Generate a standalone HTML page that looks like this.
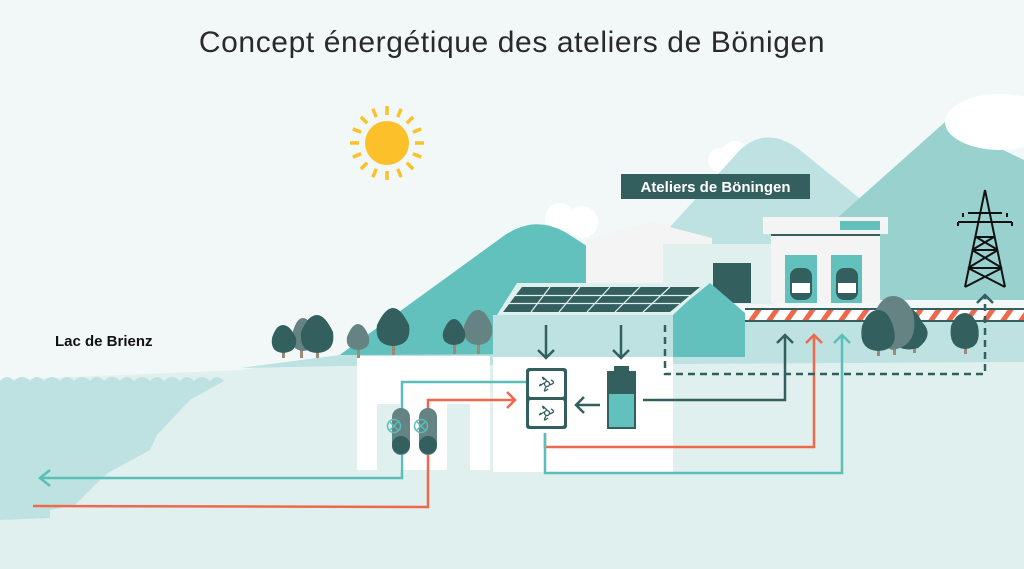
<!DOCTYPE html>
<html><head><meta charset="utf-8"><style>
html,body{margin:0;padding:0;background:#f2f8f8}
svg{display:block}
</style></head><body>
<svg width="1024" height="569" viewBox="0 0 1024 569" xmlns="http://www.w3.org/2000/svg">
<rect width="1024" height="569" fill="#f2f8f8"/>
<text x="512" y="52" text-anchor="middle" font-family="Liberation Sans, sans-serif" font-size="30" letter-spacing="0.6" fill="#2a2a2a">Concept énergétique des ateliers de Bönigen</text>
<!-- sun -->
<g transform="translate(387,143)" stroke="#fcc12a" stroke-width="3.5" stroke-linecap="butt">
<circle r="22" fill="#fcc12a" stroke="none"/>
<g id="r"><line x1="0" y1="-28" x2="0" y2="-37"/></g>
<use href="#r" transform="rotate(22.5)"/><use href="#r" transform="rotate(45)"/><use href="#r" transform="rotate(67.5)"/>
<use href="#r" transform="rotate(90)"/><use href="#r" transform="rotate(112.5)"/><use href="#r" transform="rotate(135)"/>
<use href="#r" transform="rotate(157.5)"/><use href="#r" transform="rotate(180)"/><use href="#r" transform="rotate(202.5)"/>
<use href="#r" transform="rotate(225)"/><use href="#r" transform="rotate(247.5)"/><use href="#r" transform="rotate(270)"/>
<use href="#r" transform="rotate(292.5)"/><use href="#r" transform="rotate(315)"/><use href="#r" transform="rotate(337.5)"/>
</g>
<!-- clouds -->
<circle cx="560" cy="218" r="15" fill="#fff"/><circle cx="582" cy="222" r="16" fill="#fff"/>
<circle cx="720" cy="160" r="12" fill="#fff"/><circle cx="735" cy="155" r="14" fill="#fff"/>
<!-- mountains -->
<path d="M640,260 L740,150 Q767,125 800,150 L880,215 L880,300 L640,300 Z" fill="#bde2e1"/>
<path d="M790,260 L945,122 L1024,160 L1024,300 L790,300 Z" fill="#98d1ce"/>
<ellipse cx="1000" cy="122" rx="55" ry="28" fill="#fff"/>
<path d="M330,362 L505,235 Q535,215 565,232 L590,248 L590,360 Z" fill="#63c1bd"/>
<!-- background buildings -->
<path d="M586,240 L650,222 L712,238 L712,300 L586,300 Z" fill="#f4f4f4"/>
<rect x="663" y="244" width="110" height="60" fill="#e0f0ef"/>
<rect x="713" y="263" width="38" height="40" fill="#33605f"/>
<!-- workshop -->
<rect x="771" y="235" width="109" height="68" fill="#f4f4f4"/>
<rect x="763" y="217" width="125" height="17" fill="#f4f4f4"/>
<rect x="771" y="234" width="109" height="2" fill="#33605f"/>
<rect x="840" y="221" width="40" height="9" fill="#63c1bd"/>
<g fill="#63c1bd"><rect x="785" y="255" width="32" height="48"/><rect x="831" y="255" width="31" height="48"/></g>
<g fill="#33605f"><rect x="790" y="268" width="22" height="32" rx="8"/><rect x="836" y="268" width="22" height="32" rx="8"/></g>
<g fill="#fff"><rect x="792" y="283" width="18" height="10"/><rect x="838" y="283" width="18" height="10"/></g>
<!-- ground -->
<path d="M0,380 L240,370 L340,356 L1024,354 L1024,569 L0,569 Z" fill="#e0f0ef"/>
<path d="M240,368 L340,355 L1024,352 L1024,362 L340,366 Z" fill="#bde2e1"/>
<path d="M745,320 L1024,320 L1024,356 L745,356 Z" fill="#bde2e1"/>
<!-- lake -->
<path d="M0,381 Q7,373 14,381 Q22,373 30,381 Q37,373 44,381 Q52,373 60,381 Q67,373 74,381 Q82,373 90,381 Q97,373 104,381 Q112,373 120,381 Q127,373 134,381 Q142,373 150,381 Q157,373 164,381 Q172,373 180,381 Q187,373 194,381 Q202,373 210,381 Q217,373 224,381 L240,372 L190,400 L157,435 L150,450 L108,473 L100,480 L75,505 L50,510 L50,518 L0,520 Z" fill="#bde2e1"/>
<text x="55" y="346" font-family="Liberation Sans, sans-serif" font-size="15" font-weight="bold" fill="#111">Lac de Brienz</text>
<!-- white building blocks -->
<path d="M357,356 L490,356 L490,470 L470,470 L470,404 L447,404 L447,470 L400,470 L400,404 L380,404 L380,392 L380,404 L357,404 Z" fill="#fff"/>
<rect x="357" y="356" width="20" height="114" fill="#fff"/>
<rect x="493" y="356" width="180" height="116" fill="#fff"/>
<!-- main building with solar -->
<rect x="493" y="315" width="180" height="42" fill="#bde2e1"/>
<path d="M673,357 L673,313 L710,283 L745,313 L745,357 Z" fill="#63c1bd"/>
<path d="M517,283 L707,283 L673,315 L497,315 Z" fill="#e0f0ef"/>
<path d="M522,287 L700,287 L670,312 L503,312 Z" fill="#33605f"/>
<g stroke="#e0f0ef" stroke-width="1.2">
<line x1="512" y1="295.5" x2="690" y2="295.5"/><line x1="507" y1="303.5" x2="680" y2="303.5"/>
<line x1="550" y1="287" x2="531" y2="312"/><line x1="580" y1="287" x2="559" y2="312"/><line x1="610" y1="287" x2="587" y2="312"/><line x1="640" y1="287" x2="615" y2="312"/><line x1="670" y1="287" x2="643" y2="312"/>
</g>
<!-- track -->
<rect x="745" y="308" width="279" height="14" fill="#fff"/>
<g clip-path="url(#tc)"><clipPath id="tc"><rect x="745" y="310" width="279" height="10"/></clipPath>
<g stroke="#f0684c" stroke-width="5">
<path d="M750,322 L760,308 M768,322 L778,308 M786,322 L796,308 M804,322 L814,308 M822,322 L832,308 M840,322 L850,308 M858,322 L868,308 M876,322 L886,308 M894,322 L904,308 M912,322 L922,308 M930,322 L940,308 M948,322 L958,308 M966,322 L976,308 M984,322 L994,308 M1002,322 L1012,308 M1020,322 L1030,308"/></g></g>
<rect x="745" y="308" width="279" height="2" fill="#33605f"/><rect x="745" y="320" width="279" height="2" fill="#33605f"/>
<!-- trees -->
<g>
<g fill="#a08878"><rect x="282" y="340" width="3" height="18"/><rect x="300" y="340" width="3" height="18"/><rect x="316" y="340" width="3" height="18"/><rect x="357" y="340" width="3" height="18"/><rect x="392" y="340" width="3" height="15"/><rect x="453" y="340" width="3" height="14"/><rect x="477" y="340" width="3" height="14"/>
<rect x="877" y="340" width="3" height="16"/><rect x="893" y="340" width="3" height="15"/><rect x="913" y="340" width="3" height="13"/><rect x="964" y="340" width="3" height="14"/></g>
<path d="M303,318 Q310,318 316,335 Q318,350 303,351 Q290,350 292,335 Q296,318 303,318Z" fill="#648382"/>
<path d="M283,325 Q290,325 296,338 Q298,352 283,353 Q270,352 272,338 Q276,325 283,325Z" fill="#33605f"/>
<path d="M317,315 Q325,315 333,332 Q336,352 317,353 Q299,352 301,332 Q308,315 317,315Z" fill="#33605f"/>
<path d="M358,324 Q364,324 369,337 Q371,349 358,350 Q345,349 347,337 Q352,324 358,324Z" fill="#648382"/>
<path d="M393,308 Q401,308 409,325 Q412,345 393,346 Q374,345 377,325 Q385,308 393,308Z" fill="#33605f"/>
<path d="M478,310 Q486,310 492,326 Q494,344 478,345 Q462,344 464,326 Q470,310 478,310Z" fill="#648382"/>
<path d="M454,319 Q460,319 465,332 Q467,344 454,345 Q441,344 443,332 Q448,319 454,319Z" fill="#33605f"/>
<path d="M905,307 Q915,307 922,322 Q935,335 918,348 Q905,352 895,345 Z" fill="#33605f"/>
<path d="M893,296 Q905,296 913,312 Q920,345 893,350 Q872,345 875,312 Q882,296 893,296Z" fill="#648382"/>
<path d="M878,310 Q888,310 893,326 Q900,350 878,351 Q858,350 862,326 Q868,310 878,310Z" fill="#33605f"/>
<path d="M965,313 Q973,313 978,326 Q982,348 965,349 Q948,348 951,326 Q956,313 965,313Z" fill="#33605f"/>
</g>
<!-- power tower -->
<g stroke="#111" stroke-width="2" fill="none">
<path d="M985,190 L965,287 M985,190 L1005,287 M968,213 L1002,213 M958,222 L1012,222 M958,222 L958,226 M1012,222 L1012,226 M963,213 L963,217 M1007,213 L1007,217 M976,237 L994,237 M972,250 L998,250 M968,268 L1002,268 M976,237 L998,250 M994,237 L972,250 M972,250 L1002,268 M998,250 L968,268 M968,268 L1005,287 M1002,268 L965,287"/>
</g>
<!-- label -->
<rect x="621" y="174" width="189" height="25" fill="#33605f"/>
<text x="715.5" y="192" text-anchor="middle" font-family="Liberation Sans, sans-serif" font-size="15" font-weight="bold" fill="#fff">Ateliers de Böningen</text>
<!-- pipes -->
<g fill="none" stroke-width="2.5">
<path d="M40,478 L402,478 L402,382 L528,382" stroke="#5bbfb9"/>
<path d="M50,470 L40,478 L50,486" stroke="#5bbfb9"/>
<path d="M33,506 L428,507 L428,400 L515,400" stroke="#f0684c"/>
<path d="M507,392 L515,400 L507,408" stroke="#f0684c"/>
<path d="M545,433 L545,447 L814,447 L814,335" stroke="#f0684c"/>
<path d="M806,343 L814,335 L822,343" stroke="#f0684c"/>
<path d="M545,433 L545,473 L842,473 L842,335" stroke="#5bbfb9"/>
<path d="M834,343 L842,335 L850,343" stroke="#5bbfb9"/>
<path d="M643,400 L785,400 L785,335" stroke="#33605f"/>
<path d="M777,343 L785,335 L793,343" stroke="#33605f"/>
<path d="M665,325 L665,374 L985,374 L985,295" stroke="#33605f" stroke-dasharray="7,5"/>
<path d="M977,303 L985,295 L993,303" stroke="#33605f"/>
<path d="M546,325 L546,358 M538,350 L546,358 L554,350" stroke="#33605f"/>
<path d="M621,325 L621,358 M613,350 L621,358 L629,350" stroke="#33605f"/>
<path d="M600,405 L576,405 M584,397 L576,405 L584,413" stroke="#33605f"/>
</g>
<!-- heat exchangers -->
<g>
<rect x="392" y="408" width="18" height="47" rx="9" fill="#648382"/><circle cx="401" cy="445" r="9" fill="#33605f"/>
<rect x="419" y="408" width="18" height="47" rx="9" fill="#648382"/><circle cx="428" cy="445" r="9" fill="#33605f"/>
<g stroke="#5bbfb9" stroke-width="1.5" fill="none"><circle cx="394" cy="426" r="6.5"/><path d="M390,422 L398,430 M398,422 L390,430"/><circle cx="421" cy="426" r="6.5"/><path d="M417,422 L425,430 M425,422 L417,430"/></g>
</g>
<!-- heat pump -->
<rect x="526" y="368" width="41" height="61" rx="3" fill="#33605f"/>
<rect x="529" y="371" width="35" height="26" rx="2" fill="#fff"/>
<rect x="529" y="400" width="35" height="26" rx="2" fill="#fff"/>
<g stroke="#33605f" stroke-width="1.3" fill="none">
<circle cx="547" cy="384" r="2.5"/><path d="M547,381 Q540,374 544,380 M549,385 Q557,383 551,380 M546,387 Q542,394 548,389 M544,383 Q537,388 541,384"/>
<circle cx="547" cy="413" r="2.5"/><path d="M547,410 Q540,403 544,409 M549,414 Q557,412 551,409 M546,416 Q542,423 548,418 M544,412 Q537,417 541,413"/>
</g>
<!-- battery -->
<rect x="614" y="366" width="15" height="6" fill="#33605f"/>
<rect x="607" y="371" width="29" height="58" fill="#33605f"/>
<rect x="609" y="394" width="25" height="33" fill="#63c1bd"/>
</svg>
</body></html>
